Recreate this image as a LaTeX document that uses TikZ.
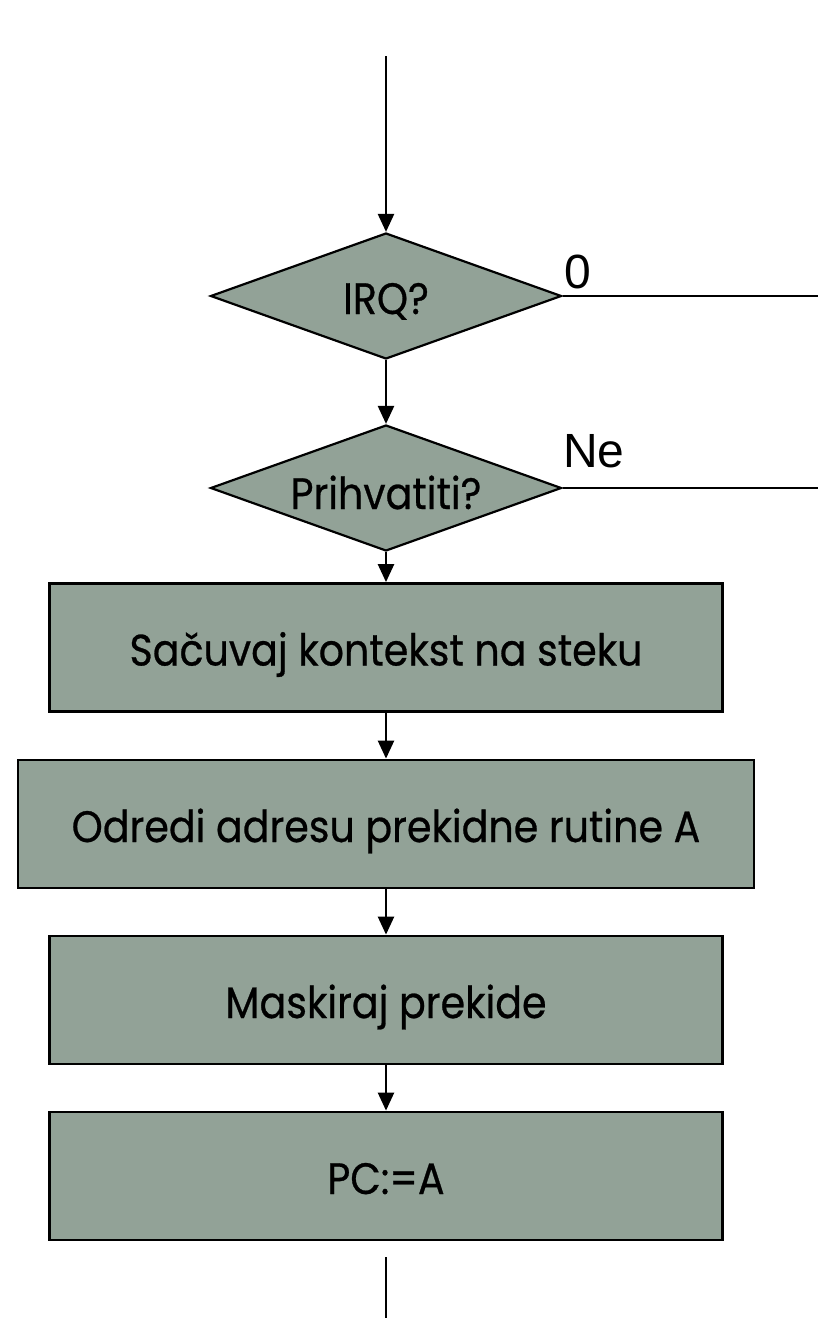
\documentclass[tikz,border=0pt]{standalone}
\usepackage{fontspec}
\setmainfont{Poppins}[FakeStretch=0.9,FakeBold=0.6]
\newfontfamily\labelfont{Liberation Sans}
\usetikzlibrary{arrows.meta,shapes.geometric}
\definecolor{boxfill}{RGB}{146,162,151}
\begin{document}
\begin{tikzpicture}[x=1pt,y=-1pt,
  flow/.style={line width=2.4pt,-{Triangle[width=16pt,length=18pt]}},
  plain/.style={line width=2.4pt},
  boxtext/.style={font=\fontsize{44}{50}\selectfont,inner sep=0pt,
    text height=36pt,text depth=0pt},
  decision/.style={diamond,draw=black,line width=2.2pt,fill=boxfill,
    minimum width=351pt,minimum height=126pt,inner sep=0pt,aspect=2.8},
  stepbox/.style={rectangle,draw=black,line width=2.8pt,fill=boxfill,
    minimum height=128pt,inner sep=0pt,boxtext},
  branch/.style={font=\labelfont\fontsize{48}{54}\selectfont,anchor=base west,inner sep=0pt}]
\useasboundingbox (0,0) rectangle (818,1318);

% decisions
\node[decision] (irq) at (386,296) {};
\node[boxtext] (irqtext) at (386,296) {IRQ?};
\node[decision] (acc) at (386,488) {};
\node[boxtext] (acctext) at (386,491) {Prihvatiti?};

% processing steps
\node[stepbox,minimum width=673pt] (save) at (386,647.5) {Sačuvaj kontekst na steku};
\node[stepbox,minimum width=736pt] (addr) at (386,824) {Odredi adresu prekidne rutine A};
\node[stepbox,minimum width=673pt] (mask) at (386,1000) {Maskiraj prekide};
\node[stepbox,minimum width=673pt] (pc) at (386,1176) {PC:=A};

% branch labels
\node[branch] (zero) at (564,288) {0};
\node[branch] (no) at (563,467) {Ne};

% free ends
\coordinate (entry) at (386,56);
\coordinate (irqout) at (818,296);
\coordinate (accout) at (818,488);
\coordinate (exitstart) at (386,1257);
\coordinate (exitend) at (386,1318);

% connectors
\draw[flow] (entry) -- (irq.north);
\draw[flow] (irq.south) -- (acc.north);
\draw[flow] (acc.south) -- (save.north);
\draw[flow] (save.south) -- (addr.north);
\draw[flow] (addr.south) -- (mask.north);
\draw[flow] (mask.south) -- (pc.north);
\draw[plain] (irq.east) -- (irqout);
\draw[plain] (acc.east) -- (accout);
\draw[plain] (exitstart) -- (exitend);
\end{tikzpicture}
\end{document}
